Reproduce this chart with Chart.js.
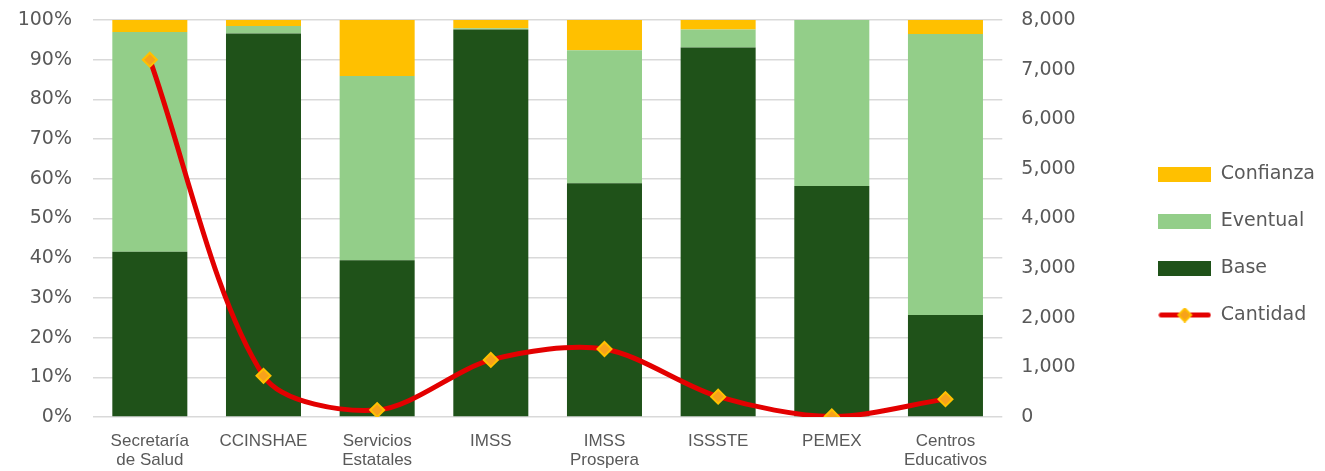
<!DOCTYPE html>
<html>
<head>
<meta charset="utf-8">
<script src="https://cdn.jsdelivr.net/npm/chart.js@4"></script>
<style>
    body { margin: 0; background: #fff; }
    #wrap { width: 1325px; height: 471px; position: relative; }
</style>
</head>
<body>
<div id="wrap"><canvas id="chart"></canvas></div>
<script>
// data
const categories = [
    ["Secretaría", "de Salud"], "CCINSHAE", ["Servicios", "Estatales"], "IMSS",
    ["IMSS", "Prospera"], "ISSSTE", "PEMEX", ["Centros", "Educativos"]
];
const base      = [41.6, 96.6, 39.5, 97.6, 58.9, 93.1, 58.2, 25.7];
const eventual  = [55.4, 1.9, 46.4, 0.3, 33.5, 4.5, 41.8, 70.8];
const confianza = [3.0, 1.5, 14.1, 2.1, 7.6, 2.4, 0, 3.5];
const cantidad  = [7200, 830, 140, 1150, 1370, 410, 10, 360];
const percentTicks = [0, 10, 20, 30, 40, 50, 60, 70, 80, 90, 100];
const countTicks = [0, 1000, 2000, 3000, 4000, 5000, 6000, 7000, 8000];

const DARK = "#1F5219";
const LIGHT = "#93CE89";
const GOLD = "#FFC000";
const RED = "#E30000";
const GREY = "#595959";

// little pictures for the legend
function boxImage(color) {
    const c = document.createElement("canvas");
    c.width = 53; c.height = 15;
    const g = c.getContext("2d");
    g.fillStyle = color;
    g.fillRect(0, 0, 53, 15);
    return c;
}

function lineImage() {
    const c = document.createElement("canvas");
    c.width = 53; c.height = 15;
    const g = c.getContext("2d");
    g.strokeStyle = RED;
    g.lineWidth = 5;
    g.lineCap = "round";
    g.beginPath();
    g.moveTo(3, 7.5);
    g.lineTo(50, 7.5);
    g.stroke();
    g.fillStyle = "#F7A21B";
    g.strokeStyle = GOLD;
    g.lineWidth = 2;
    g.beginPath();
    g.moveTo(26.5, 1); g.lineTo(33, 7.5); g.lineTo(26.5, 14); g.lineTo(20, 7.5);
    g.closePath();
    g.fill(); g.stroke();
    return c;
}

// nudge the legend up a pixel
const legendShift = {
    id: "legendShift",
    afterLayout(chart) {
        chart.legend.top -= 1;
        chart.legend.bottom -= 1;
    }
};

// side axes: fixed width, no extra room above/below for labels
function sideFit(width) {
    return function(s) {
        s.width = width;
        s.paddingTop = 0;
        s.paddingBottom = 0;
    };
}

Chart.defaults.font.family = "'DejaVu Sans', sans-serif";
Chart.defaults.color = GREY;

new Chart(document.getElementById("chart"), {
    type: "bar",
    data: {
        labels: categories,
        datasets: [
            { label: "Base", data: base, backgroundColor: DARK, stack: "s", yAxisID: "y", order: 1 },
            { label: "Eventual", data: eventual, backgroundColor: LIGHT, stack: "s", yAxisID: "y", order: 1 },
            { label: "Confianza", data: confianza, backgroundColor: GOLD, stack: "s", yAxisID: "y", order: 1 },
            {
                type: "line", label: "Cantidad", data: cantidad, yAxisID: "y1", order: 0,
                borderColor: RED, borderWidth: 5, tension: 0.3,
                pointStyle: "rectRot", pointRadius: 7, pointBackgroundColor: "#F7A21B",
                pointBorderColor: GOLD, pointBorderWidth: 2
            }
        ]
    },
    options: {
        responsive: true,
        maintainAspectRatio: false,
        animation: false,
        layout: { padding: { top: 20, left: 0, right: 0, bottom: 0 } },
        datasets: { bar: { categoryPercentage: 1, barPercentage: 0.66 } },
        scales: {
            x: {
                grid: { display: false },
                border: { display: false },
                ticks: {
                    font: { family: "'Liberation Sans', Arial", size: 17, lineHeight: 1.1 },
                    padding: 7, maxRotation: 0, autoSkip: false
                },
                afterFit(s) { s.height = 54; }
            },
            y: {
                stacked: true, min: 0, max: 100,
                border: { display: false },
                grid: { color: "#D9D9D9", lineWidth: 1.5, drawTicks: false },
                afterBuildTicks(s) { s.ticks = percentTicks.map(v => ({ value: v })); },
                ticks: { font: { size: 19 }, padding: 21, callback: v => v + "%" },
                afterFit: sideFit(93)
            },
            y1: {
                position: "right", min: 0, max: 8000,
                border: { display: false },
                grid: { display: false },
                afterBuildTicks(s) { s.ticks = countTicks.map(v => ({ value: v })); },
                ticks: { font: { size: 19 }, padding: 11, callback: v => v.toLocaleString("en-US") },
                afterFit: sideFit(128)
            }
        },
        plugins: {
            tooltip: { enabled: false },
            legend: {
                position: "right",
                labels: {
                    usePointStyle: true,
                    pointStyleWidth: 53,
                    boxHeight: 15,
                    padding: 28,
                    font: { size: 19 },
                    color: GREY,
                    generateLabels() {
                        return [
                            { text: "Confianza", pointStyle: boxImage(GOLD), datasetIndex: 2, fontColor: GREY },
                            { text: "Eventual", pointStyle: boxImage(LIGHT), datasetIndex: 1, fontColor: GREY },
                            { text: "Base", pointStyle: boxImage(DARK), datasetIndex: 0, fontColor: GREY },
                            { text: "Cantidad", pointStyle: lineImage(), datasetIndex: 3, fontColor: GREY }
                        ];
                    }
                }
            }
        }
    },
    plugins: [legendShift]
});
</script>
</body>
</html>
